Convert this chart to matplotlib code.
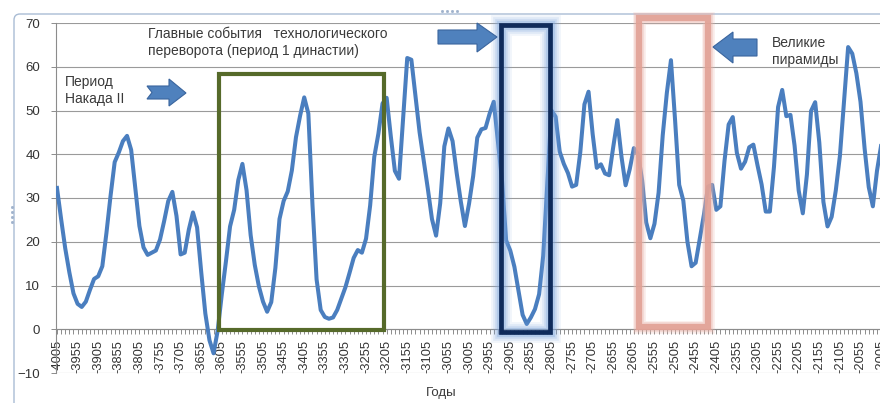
import numpy as np
import matplotlib
matplotlib.use("Agg")
import matplotlib.pyplot as plt
from matplotlib.patches import Rectangle, Polygon, FancyBboxPatch
from matplotlib.lines import Line2D
from matplotlib.transforms import IdentityTransform

plt.rcParams['font.family'] = ['Liberation Sans', 'DejaVu Sans']

# --- data: one value every 10 years, -4005 ... -2005
years = list(range(-4005, -2004, 10))
values = [
    32.3, 25.2, 18.5, 13.0, 8.2, 5.8, 5.1, 6.3, 9.0, 11.5,
    12.1, 14.4, 22.0, 30.5, 38.2, 40.4, 43.0, 44.2, 41.0, 32.2,
    23.6, 18.7, 17.0, 17.5, 18.0, 20.5, 24.7, 29.3, 31.4, 25.9,
    17.1, 17.5, 22.8, 26.7, 23.3, 13.1, 3.6, -2.5, -5.5, -0.3,
    8.0, 15.5, 23.5, 27.3, 34.1, 37.8, 31.8, 21.5, 14.7, 9.8,
    6.3, 4.0, 6.2, 14.0, 25.2, 29.3, 31.5, 36.3, 43.9, 48.8,
    53.0, 49.3, 28.5, 11.4, 4.4, 2.8, 2.4, 2.7, 4.4, 7.0,
    9.6, 12.9, 16.3, 18.1, 17.5, 20.7, 28.3, 39.4, 44.7, 51.6,
    52.9, 44.2, 36.2, 34.4, 48.2, 62.0, 61.6, 53.3, 45.0, 38.5,
    32.1, 25.2, 21.4, 28.8, 41.8, 45.9, 43.0, 35.7, 29.2, 23.6,
    28.7, 35.0, 43.8, 45.7, 46.0, 49.3, 52.0, 43.1, 34.0, 20.3,
    18.0, 14.3, 8.8, 3.3, 1.2, 2.7, 4.6, 8.0, 16.8, 33.6,
    50.0, 48.6, 40.6, 37.8, 35.7, 32.6, 33.0, 40.5, 51.4, 54.3,
    44.6, 36.9, 37.7, 35.6, 35.2, 41.7, 47.8, 39.4, 32.9, 36.6,
    41.4, 40.0, 34.1, 24.4, 20.8, 24.1, 31.2, 44.3, 54.0, 61.5,
    47.8, 33.0, 29.4, 20.0, 14.4, 15.2, 20.7, 26.2, 32.6, 33.0,
    27.3, 28.1, 38.5, 46.8, 48.5, 40.3, 36.7, 38.3, 41.6, 42.2,
    37.5, 33.1, 26.9, 26.9, 37.1, 50.8, 54.7, 48.7, 49.0, 42.0,
    31.7, 26.5, 35.4, 49.9, 51.9, 42.7, 29.1, 23.5, 25.7, 31.7,
    39.6, 52.0, 64.5, 63.0, 58.5, 52.0, 41.3, 32.5, 28.1, 36.2,
    42.0,
]
tick_labels = [str(y) for y in years[::5]]

W, H = 880, 403
fig = plt.figure(figsize=(W / 100, H / 100), dpi=100)
fig.patch.set_facecolor('white')

# axes: plot area runs off the right edge like the screenshot
ax = fig.add_axes([56 / W, 1 - 373 / H, (905 - 56) / W, 350 / H])
x = np.arange(len(values))
ax.plot(x, values, color='#4A7EBF', lw=2.9, solid_joinstyle='round', zorder=3)

ax.set_xlim(-0.24, 205.8)
ax.set_ylim(-10, 70)
ax.set_yticks(range(-10, 71, 10))
ax.set_xticks(x[::5])
ax.set_xticks(x, minor=True)
ax.set_xticklabels(tick_labels)
ax.tick_params(axis='x', which='both', direction='out', length=3.5, width=0.7,
               color='#8C8C8C', pad=4)
ax.tick_params(axis='x', which='major', labelrotation=90, labelsize=9.3,
               labelcolor='#333333')
ax.tick_params(axis='y', direction='out', length=3.5, width=0.7, color='#8C8C8C',
               labelsize=9.5, labelcolor='#333333', pad=8)
ax.grid(axis='y', color='#9A9A9A', lw=0.8)
ax.set_axisbelow(True)
for s in ['top', 'right']:
    ax.spines[s].set_visible(False)
ax.spines['bottom'].set_position(('data', 0))
ax.spines['bottom'].set_color('#8C8C8C')
ax.spines['left'].set_color('#8C8C8C')
ax.patch.set_alpha(0)

# --- overlays in pixel coordinates (y measured from top)
T = IdentityTransform()

def rect(x0, y0, x1, y1, **kw):
    fig.add_artist(Rectangle((x0, H - y1), x1 - x0, y1 - y0, transform=T,
                             fill=False, **kw))

def block_arrow(pts, **kw):
    fig.add_artist(Polygon([(px, H - py) for px, py in pts], closed=True,
                           transform=T, facecolor='#4F81BD', edgecolor='#3A659E',
                           lw=0.8, zorder=6, **kw))

# chart frame and handles
fig.add_artist(FancyBboxPatch((14, -40), 950, H - 14 + 40,
                              boxstyle='round,pad=0,rounding_size=6', transform=T,
                              fill=False, edgecolor='#A9BCD4', lw=1.0, zorder=1))
fig.add_artist(Line2D([442, 447, 452, 457], [H - 11] * 4, transform=T, ls='none',
                      marker='s', ms=1.0, color='#9FB2CC'))
fig.add_artist(Line2D([12] * 4, [H - 207, H - 212, H - 217, H - 222], transform=T,
                      ls='none', marker='s', ms=1.0, color='#9FB2CC'))

# green box
rect(218.5, 74, 384, 330, edgecolor='#566A2A', lw=3.0, zorder=5)

# blue glowing box
for lw, a in [(15, 0.10), (12, 0.15), (9, 0.22), (6.5, 0.3)]:
    rect(501, 24.5, 550, 331.5, edgecolor='#7EA6DE', lw=lw, alpha=a, zorder=5)
rect(501, 24.5, 550, 331.5, edgecolor='#0F2B5B', lw=3.4, zorder=5)

# pink box
for lw, a in [(9, 0.25), (7, 0.35)]:
    rect(639, 17.5, 707.5, 326.5, edgecolor='#EBB3A8', lw=lw, alpha=a, zorder=5)
rect(639, 17.5, 707.5, 326.5, edgecolor='#E2A195', lw=4.5, alpha=0.9, zorder=5)

# arrows
block_arrow([(147, 86), (169, 86), (169, 79), (186, 93), (169, 106),
             (169, 99), (147, 99), (152, 92.5)])
block_arrow([(438, 30), (477, 30), (477, 23), (497, 37), (477, 52),
             (477, 44), (438, 44)])
block_arrow([(713, 47), (733, 32), (733, 39), (757, 39), (757, 56),
             (733, 56), (733, 63)])

# texts
tc = '#3A3A3A'
fig.text(148 / W, 1 - 27 / H, "Главные события   технологического\nпереворота (период 1 династии)",
         va='top', ha='left', fontsize=10, color=tc, linespacing=1.3)
fig.text(65 / W, 1 - 75 / H, "Период\nНакада II", va='top', ha='left',
         fontsize=10, color=tc, linespacing=1.3)
fig.text(772 / W, 1 - 36 / H, "Великие\nпирамиды", va='top', ha='left',
         fontsize=10, color=tc, linespacing=1.3)
fig.text(441 / W, 1 - 393 / H, "Годы", va='center', ha='center',
         fontsize=9.5, color=tc)

fig.savefig('out.png', dpi=100)
